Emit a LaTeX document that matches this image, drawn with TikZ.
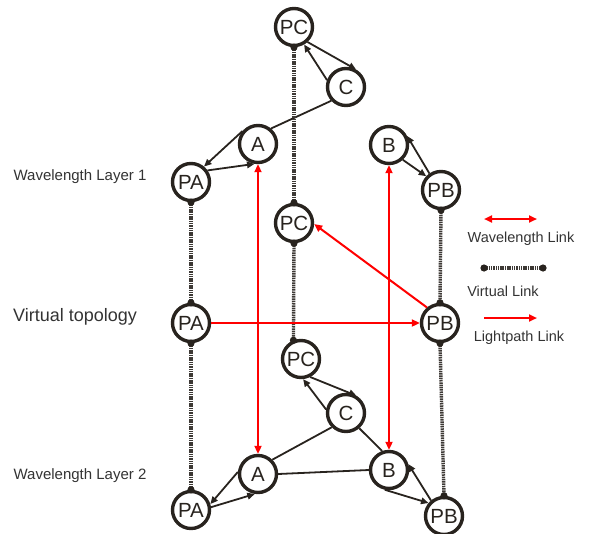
\documentclass[tikz,border=0pt]{standalone}
\usepackage{fontspec}
\setmainfont{Liberation Sans}
\usetikzlibrary{arrows.meta}
\definecolor{nodeclr}{RGB}{40,35,30}
\definecolor{linkred}{RGB}{255,0,0}
\def\vlink(#1)(#2){\draw[vlink] (#1) -- (#2); \fill[nodeclr] (#1) circle (3.6pt) (#2) circle (3.6pt);}

\begin{document}
\begin{tikzpicture}[x=1pt, y=-1pt,
		station/.style={circle, draw=nodeclr, line width=3.4pt, minimum size=37pt, inner sep=0pt, text=nodeclr, font=\fontsize{20.5}{20.5}\selectfont},
		wlink/.style={draw=nodeclr, line width=1.8pt, -{Triangle[length=7.5pt,width=6.5pt]}},
		bond/.style={draw=nodeclr, line width=1.8pt},
		redlink/.style={draw=linkred, line width=2pt, -{Triangle[length=8pt,width=7pt,fill=linkred]}},
		wavelink/.style={draw=linkred, line width=2pt, {Triangle[length=8pt,width=7pt,fill=linkred]}-{Triangle[length=8pt,width=7pt,fill=linkred]}},
		vlink/.style={draw=nodeclr!90, line width=3.4pt, dash pattern=on 1.5pt off 0.8pt},
		caption/.style={text=black!80, font=\fontsize{14.5}{14.5}\selectfont},
		layer/.style={text=black!80, font=\fontsize{15}{15}\selectfont}]
		%%%%% START %%%%%
		
		\useasboundingbox (0, 0) rectangle (589, 533);
		
		% wavelength layer 1
		\node[station] (PCt) at (294, 27) {PC};
		\node[station] (Ct) at (346, 87) {C};
		\node[station] (At) at (258, 144) {A};
		\node[station] (PAt) at (191, 182) {PA};
		\node[station] (Bt) at (389, 145) {B};
		\node[station] (PBt) at (441, 190) {PB};
		
		% virtual topology
		\node[station] (PCv) at (294, 223) {PC};
		\node[station] (PAv) at (191, 323) {PA};
		\node[station] (PBv) at (440, 323) {PB};
		
		% wavelength layer 2
		\node[station] (PCb) at (301, 359) {PC};
		\node[station] (Cb) at (346, 413) {C};
		\node[station] (Ab) at (258, 474) {A};
		\node[station] (Bb) at (389, 470) {B};
		\node[station] (PAb) at (191, 510) {PA};
		\node[station] (PBb) at (444, 516) {PB};
		
		\node[layer] (lay1) at (80, 177) {Wavelength Layer 1};
		\node[layer, font=\fontsize{18}{18}\selectfont] (vtop) at (75, 317) {Virtual topology};
		\node[layer] (lay2) at (80, 476) {Wavelength Layer 2};
		
		\draw[wlink] (PCt.-48) -- (Ct.60);
		\draw[wlink] (Ct.160) -- (PCt.-60);
		\draw[bond] (Ct.-137) -- (At.50);
		\draw[wlink] (At.140) -- (PAt.50);
		\draw[wlink] (PAt.35) -- (At.-100);
		\draw[wlink] (Bt.-47) -- (PBt.137);
		\draw[wlink] (PBt.125) -- (Bt.27);
		
		\draw[wlink] (Cb.170) -- (PCb.-84);
		\draw[wlink] (PCb.-63) -- (Cb.59);
		\draw[bond] (Cb.-135) -- (Ab.45);
		\draw[bond] (Cb.-49) -- (Bb.110);
		\draw[bond] (Ab.east) -- (Bb.west);
		\draw[wlink] (Ab.174) -- (PAb.17);
		\draw[wlink] (PAb.8) -- (Ab.-99);
		\draw[wlink] (Bb.-102) -- (PBb.140);
		\draw[wlink] (PBb.130) -- (Bb.17);
		
		\vlink(PCt.south)(PCv.north)
		\vlink(PAt.south)(PAv.north)
		\vlink(PAv.south)(PAb.north)
		\vlink(PBt.south)(PBv.north)
		\vlink(PBv.south)(PBb.north)
		\vlink(PCv.south)(PCb.112)
		
		\draw[wavelink] (At.south) -- (Ab.north);
		\draw[wavelink] (Bt.south) -- (Bb.north);
		\draw[redlink] (PAv.east) -- (PBv.west);
		\draw[redlink] (PBv.130) -- (PCv.-3);
		
		% legend
		\coordinate (w1) at (484, 219);
		\coordinate (w2) at (537, 219);
		\draw[wavelink] (w1) -- (w2);
		\node[caption] (wtxt) at (521, 239) {Wavelength Link};
		
		\coordinate (v1) at (484, 268);
		\coordinate (v2) at (543, 268);
		\vlink(v1)(v2)
		\node[caption] (vtxt) at (503, 291) {Virtual Link};
		
		\coordinate (l1) at (484, 318);
		\coordinate (l2) at (537, 318);
		\draw[redlink] (l1) -- (l2);
		\node[caption] (ltxt) at (519, 338) {Lightpath Link};
		
		%%%%% END %%%%%
\end{tikzpicture}
\end{document}
